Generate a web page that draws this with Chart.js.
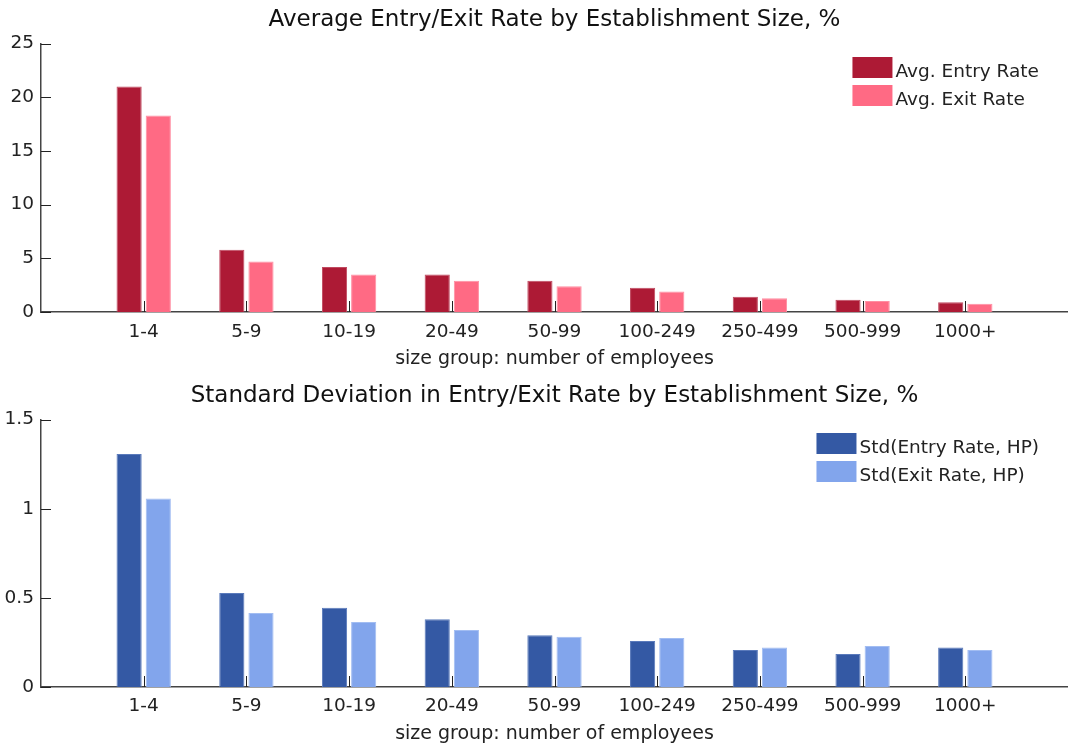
<!DOCTYPE html>
<html>
<head>
<meta charset="utf-8">
<title>Entry/Exit Rate by Establishment Size</title>
<script src="https://cdn.jsdelivr.net/npm/chart.js@4.4.1/dist/chart.umd.min.js"></script>
<style>
  html, body { margin: 0; padding: 0; background: #fff; }
  .panel { width: 1068px; height: 374px; }
  canvas { display: block; }
</style>
</head>
<body>
<div class="panel"><canvas id="avg-chart" width="1068" height="374"></canvas></div>
<div class="panel"><canvas id="std-chart" width="1068" height="374"></canvas></div>
<script>
// size groups (x categories)
const sizeGroups = ['1-4', '5-9', '10-19', '20-49', '50-99', '100-249', '250-499', '500-999', '1000+'];

// top panel: average rates, %
const avgEntryRate = [21.0, 5.8, 4.2, 3.5, 2.9, 2.25, 1.42, 1.15, 0.9];
const avgExitRate = [18.3, 4.7, 3.5, 2.9, 2.4, 1.9, 1.28, 1.03, 0.78];
const avgTicks = [0, 5, 10, 15, 20, 25];

// bottom panel: std of HP-filtered rates, %
const stdEntryRate = [1.307, 0.527, 0.445, 0.38, 0.29, 0.258, 0.208, 0.185, 0.222];
const stdExitRate = [1.057, 0.415, 0.365, 0.32, 0.282, 0.275, 0.222, 0.23, 0.208];
const stdTicks = [0, 0.5, 1, 1.5];

const FONT = '"DejaVu Sans", Verdana, sans-serif';
Chart.defaults.font.family = FONT;
Chart.defaults.font.size = 18.5;
Chart.defaults.color = '#222';

// small tick marks pointing into the plot, like the original figure
const innerTicks = {
    id: 'innerTicks',
    afterDatasetsDraw(chart) {
        const { ctx, chartArea, scales } = chart;
        ctx.save();
        ctx.strokeStyle = '#222';
        ctx.lineWidth = 1;
        ctx.beginPath();
        scales.x.ticks.forEach(t => {
            const px = Math.round(scales.x.getPixelForValue(t.value)) + 0.5;
            ctx.moveTo(px, chartArea.bottom);
            ctx.lineTo(px, chartArea.bottom - 11);
        });
        scales.y.ticks.forEach(t => {
            const py = Math.round(scales.y.getPixelForValue(t.value)) + 0.5;
            ctx.moveTo(chartArea.left, py);
            ctx.lineTo(chartArea.left + 10, py);
        });
        ctx.stroke();
        ctx.restore();
    }
};

// legend box in the upper right corner of the plot
const cornerLegend = {
    id: 'cornerLegend',
    afterDraw(chart, args, opts) {
        const { ctx, chartArea } = chart;
        const sets = chart.data.datasets;
        ctx.save();
        ctx.font = '18.5px ' + FONT;
        const textW = Math.max(...sets.map(d => ctx.measureText(d.label).width));
        const left = chartArea.right - opts.right - (40 + 3 + textW);
        sets.forEach((ds, i) => {
            const y = opts.top + i * 28;
            ctx.fillStyle = ds.backgroundColor;
            ctx.fillRect(left, y, 40, 21);
            ctx.fillStyle = '#222';
            ctx.textBaseline = 'alphabetic';
            ctx.fillText(ds.label, left + 43, y + 20);
        });
        ctx.restore();
    }
};

function buildChart(canvasId, cfg) {
    const ctx = document.getElementById(canvasId);
    return new Chart(ctx, {
        type: 'bar',
        data: {
            datasets: [
                {
                    label: cfg.labels[0],
                    data: cfg.entry.map((v, i) => ({ x: i + 1, y: v })),
                    backgroundColor: cfg.colors[0],
                    borderColor: cfg.borders[0],
                    borderWidth: 1,
                    borderSkipped: 'bottom'
                },
                {
                    label: cfg.labels[1],
                    data: cfg.exit.map((v, i) => ({ x: i + 1, y: v })),
                    backgroundColor: cfg.colors[1],
                    borderColor: cfg.borders[1],
                    borderWidth: 1,
                    borderSkipped: 'bottom'
                }
            ]
        },
        options: {
            responsive: false,
            animation: false,
            categoryPercentage: 0.568,
            barPercentage: 0.863,
            layout: { padding: 0 },
            scales: {
                x: {
                    type: 'linear',
                    min: 0,
                    max: 10,
                    offset: false,
                    afterBuildTicks: s => { s.ticks = sizeGroups.map((g, i) => ({ value: i + 1 })); },
                    afterFit: s => { s.height = cfg.xHeight; },
                    ticks: {
                        padding: cfg.xPad,
                        maxRotation: 0,
                        autoSkip: false,
                        callback: v => sizeGroups[v - 1] || ''
                    },
                    grid: { display: false, drawTicks: false },
                    border: { display: true, color: '#444', width: 1.5 },
                    title: {
                        display: true,
                        text: 'size group: number of employees',
                        font: { size: 19 },
                        padding: { top: 0, bottom: cfg.xTitlePad }
                    }
                },
                y: {
                    min: 0,
                    max: cfg.yTicks[cfg.yTicks.length - 1],
                    afterBuildTicks: s => { s.ticks = cfg.yTicks.map(v => ({ value: v })); },
                    afterFit: s => { s.width = 41; },
                    ticks: { padding: 7, callback: v => String(v) },
                    grid: { display: false, drawTicks: false },
                    border: { display: true, color: '#444', width: 1.5 }
                }
            },
            plugins: {
                legend: { display: false },
                tooltip: { enabled: false },
                title: {
                    display: true,
                    fullSize: false,
                    text: cfg.title,
                    color: '#111',
                    font: { size: 23, weight: 'normal' },
                    padding: cfg.titlePad
                },
                cornerLegend: { top: cfg.legendTop, right: 29 }
            }
        },
        plugins: [innerTicks, cornerLegend]
    });
}

buildChart('avg-chart', {
    title: 'Average Entry/Exit Rate by Establishment Size, %',
    labels: ['Avg. Entry Rate', 'Avg. Exit Rate'],
    entry: avgEntryRate,
    exit: avgExitRate,
    yTicks: avgTicks,
    colors: ['#ad1a35', '#ff6a84'],
    borders: ['#c04a60', '#ff8ea2'],
    titlePad: { top: 6, bottom: 10 },
    xHeight: 62,
    xPad: 9.5,
    xTitlePad: 4,
    legendTop: 57
});

buildChart('std-chart', {
    title: 'Standard Deviation in Entry/Exit Rate by Establishment Size, %',
    labels: ['Std(Entry Rate, HP)', 'Std(Exit Rate, HP)'],
    entry: stdEntryRate,
    exit: stdExitRate,
    yTicks: stdTicks,
    colors: ['#3459a4', '#82a5ec'],
    borders: ['#5a7abb', '#a2bdf2'],
    titlePad: { top: 8, bottom: 10 },
    xHeight: 61,
    xPad: 8,
    xTitlePad: 2.5,
    legendTop: 59
});
</script>
</body>
</html>
